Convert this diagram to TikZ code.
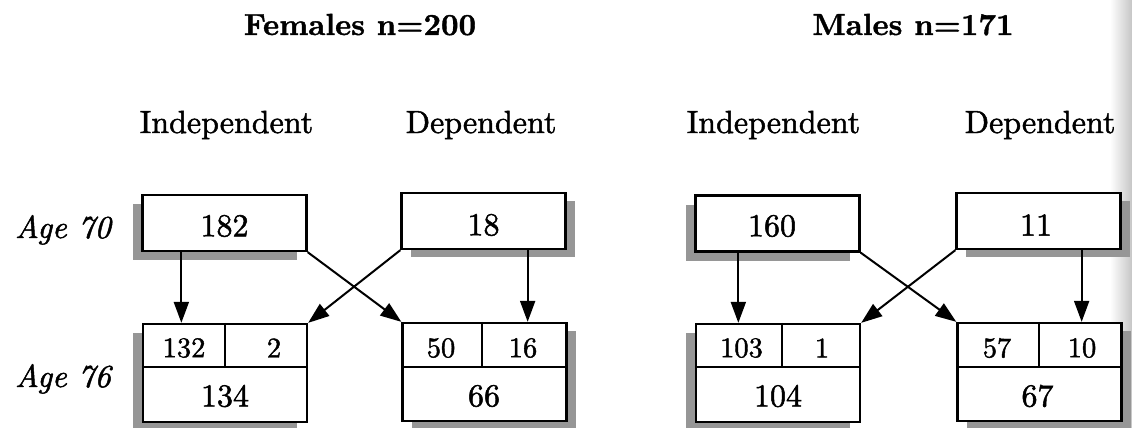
\documentclass[tikz,border=0pt]{standalone}
\usepackage{fontspec}
\setmainfont{lmroman10}[Extension=.otf,UprightFont=*-regular,BoldFont=*-bold,ItalicFont=*-italic,BoldItalicFont=*-bolditalic]
\usetikzlibrary{arrows.meta,shadows}
\definecolor{shadowgray}{RGB}{150,150,150}
\begin{document}
\begin{tikzpicture}[x=1pt,y=-1pt,
  box/.style={draw=black,line width=2.3pt,fill=white,rectangle,minimum width=164pt,minimum height=56pt,inner sep=0pt},
  bbox/.style={box,minimum height=98pt},
  lshadow/.style={drop shadow={shadow xshift=-10pt,shadow yshift=-9pt,fill=shadowgray,opacity=1}},
  rshadow/.style={drop shadow={shadow xshift=9pt,shadow yshift=-8pt,fill=shadowgray,opacity=1}},
  inner/.style={line width=2pt},
  arr/.style={line width=2pt,-{Triangle[length=21pt,width=15pt]}},
  title/.style={font=\bfseries\fontsize{30.5}{34}\selectfont\addfontfeatures{FakeBold=1.2},anchor=base,inner sep=0pt},
  lab/.style={font=\fontsize{32}{36}\selectfont\addfontfeatures{FakeBold=1.5},anchor=base,inner sep=0pt},
  age/.style={font=\itshape\fontsize{32}{36}\selectfont\addfontfeatures{FakeBold=1.5},anchor=base,inner sep=0pt},
  num/.style={font=\fontsize{32}{36}\selectfont\addfontfeatures{FakeBold=1.5},inner sep=0pt},
  small/.style={font=\fontsize{28.5}{32}\selectfont\addfontfeatures{FakeBold=1.5},inner sep=0pt}]
\useasboundingbox (0,0) rectangle (1132,428);
\shade[left color=white,right color=gray!45] (1110,0) rectangle (1132,428);

% titles and labels
\node[title] (tf) at (360,35) {Females n=200};
\node[title] (tm) at (913,35) {Males n=171};
\node[lab] (lfi) at (226.5,133) {Independent};
\node[lab] (lfd) at (481,133) {Dependent};
\node[lab] (lmi) at (773.5,133) {Independent};
\node[lab] (lmd) at (1040,133) {Dependent};
\node[age] (a70) at (63,238) {Age 70};
\node[age] (a76) at (63,387) {Age 76};

% females boxes
\node[box,lshadow] (FI70) at (224.5,223) {};
\node[box,rshadow] (FD70) at (483.5,221) {};
\node[bbox,lshadow] (FI76) at (225,373) {};
\node[bbox,rshadow] (FD76) at (484.5,372) {};
% males boxes
\node[box,lshadow] (MI70) at (777.5,223.5) {};
\node[box,rshadow] (MD70) at (1038.5,221) {};
\node[bbox,lshadow] (MI76) at (778,373) {};
\node[bbox,rshadow] (MD76) at (1039.5,372) {};

% inner lines of the age-76 boxes
\draw[inner] ([yshift=-44pt]FI76.north west) -- ([yshift=-44pt]FI76.north east);
\draw[inner] ([xshift=83pt]FI76.north west) -- ([xshift=83pt,yshift=-44pt]FI76.north west);
\draw[inner] ([yshift=-45pt]FD76.north west) -- ([yshift=-45pt]FD76.north east);
\draw[inner] ([xshift=81pt]FD76.north west) -- ([xshift=81pt,yshift=-45pt]FD76.north west);
\draw[inner] ([yshift=-44pt]MI76.north west) -- ([yshift=-44pt]MI76.north east);
\draw[inner] ([xshift=87pt]MI76.north west) -- ([xshift=87pt,yshift=-44pt]MI76.north west);
\draw[inner] ([yshift=-45pt]MD76.north west) -- ([yshift=-45pt]MD76.north east);
\draw[inner] ([xshift=83pt]MD76.north west) -- ([xshift=83pt,yshift=-45pt]MD76.north west);

% numbers
\node[num] (n182) at (224.5,226) {182};
\node[num] (n18) at (483.5,225) {18};
\node[small] (n132) at (184,348) {132};
\node[small] (n2) at (274,348) {2};
\node[num] (n134) at (225,396) {134};
\node[small] (n50) at (441,348) {50};
\node[small] (n16) at (523,348) {16};
\node[num] (n66) at (484,396) {66};
\node[num] (n160) at (772,226) {160};
\node[num] (n11) at (1036,225) {11};
\node[small] (n103) at (741.5,348) {103};
\node[small] (n1) at (822,348) {1};
\node[num] (n104) at (778,396) {104};
\node[small] (n57) at (997,348) {57};
\node[small] (n10) at (1082,348) {10};
\node[num] (n67) at (1037.5,396) {67};

% arrows
\draw[arr] ([xshift=40pt]FI70.south west) -- ([xshift=40pt]FI70.south west |- FI76.north);
\draw[arr] ([xshift=-39pt]FD70.south east) -- ([xshift=-39pt]FD70.south east |- FD76.north);
\draw[arr] (FI70.south east) -- (FD76.north west);
\draw[arr] (FD70.south west) -- (FI76.north east);
\draw[arr] ([xshift=44pt]MI70.south west) -- ([xshift=44pt]MI70.south west |- MI76.north);
\draw[arr] ([xshift=-40pt]MD70.south east) -- ([xshift=-40pt]MD70.south east |- MD76.north);
\draw[arr] (MI70.south east) -- (MD76.north west);
\draw[arr] (MD70.south west) -- (MI76.north east);
\end{tikzpicture}
\end{document}
